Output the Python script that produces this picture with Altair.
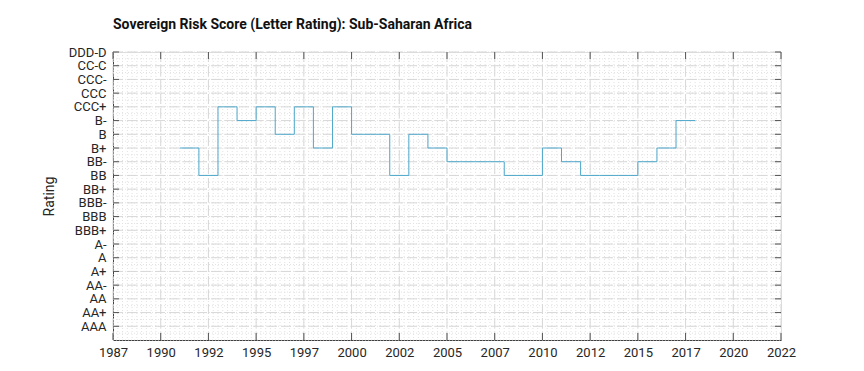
import altair as alt
import pandas as pd
import numpy as np

# ---- data ----
rating_levels = ["AAA", "AA+", "AA", "AA-", "A+", "A", "A-", "BBB+", "BBB", "BBB-",
                 "BB+", "BB", "BB-", "B+", "B", "B-", "CCC+", "CCC", "CCC-", "CC-C", "DDD-D"]
years = [1990.5, 1991.5, 1992.5, 1993.5, 1994.5, 1995.5, 1996.5, 1997.5, 1998.5, 1999.5,
         2000.5, 2001.5, 2002.5, 2003.5, 2004.5, 2005.5, 2006.5, 2007.5, 2008.5, 2009.5,
         2010.5, 2011.5, 2012.5, 2013.5, 2014.5, 2015.5, 2016.5, 2017.5]
ratings = ["B+", "BB", "CCC+", "B-", "CCC+", "B", "CCC+", "B+", "CCC+", "B",
           "B", "BB", "B", "B+", "BB-", "BB-", "BB-", "BB", "BB", "B+",
           "BB-", "BB", "BB", "BB", "BB-", "B+", "B-", "B-"]
x_ticks = [1987, 1989.5, 1992, 1994.5, 1997, 1999.5, 2002, 2004.5, 2007, 2009.5,
           2012, 2014.5, 2017, 2019.5, 2022]

W, H = 668, 288
FONT = "Roboto"

df = pd.DataFrame({"year": years, "rating": ratings})
df["score"] = df["rating"].map({r: i + 1 for i, r in enumerate(rating_levels)})

y_vals = list(range(1, len(rating_levels) + 1))
label_arr = "[''," + ",".join("'" + r + "'" for r in rating_levels) + "]"

xs = alt.Scale(domain=[1987, 2022], nice=False, zero=False)
ys = alt.Scale(domain=[0, 21], nice=False, zero=False)

common = dict(grid=False, ticks=False, labelFontSize=13, labelFont=FONT, labelColor="#262626",
              domainColor="#404040", labelFlush=False, labelOverlap=False, labelBound=False,
              titleFont=FONT, titleFontSize=14, titleFontWeight="normal", titleColor="#262626")
x_axis = alt.Axis(values=x_ticks, labelExpr="round(datum.value)", title=None,
                  labelPadding=6, **common)
y_axis = alt.Axis(values=y_vals, labelExpr=label_arr + "[datum.value]", title="Rating",
                  titleX=-57, titleY=H / 2, labelPadding=7, **common)

# minor grid (styling)
minor_x = pd.DataFrame({"mx": [v for v in np.arange(1987, 2022.001, 0.25)]})
minor_y = pd.DataFrame({"my": [v for v in np.arange(0, 21.001, 0.5)]})
tick_x = pd.DataFrame({"tx": x_ticks})
tick_y = pd.DataFrame({"ty": y_vals})

def XQ(f):
    return alt.X(f, scale=xs, axis=x_axis)

def YQ(f):
    return alt.Y(f, scale=ys, axis=y_axis)

grid_style = dict(color="#e2e2e2", strokeWidth=1, strokeDash=[1, 2])

minor_v = alt.Chart(minor_x).mark_rule(**grid_style).encode(
    x=XQ("mx:Q"), y=alt.value(0), y2=alt.value(H))
minor_h = alt.Chart(minor_y).mark_rule(**grid_style).encode(
    y=YQ("my:Q"), x=alt.value(0), x2=alt.value(W))

major_style = dict(color="#d8d8d8", strokeWidth=1, strokeDash=[10, 4])
major_v = alt.Chart(tick_x).mark_rule(**major_style).encode(
    x=XQ("tx:Q"), y=alt.value(0), y2=alt.value(H))
major_h = alt.Chart(tick_y).mark_rule(**major_style).encode(
    y=YQ("ty:Q"), x=alt.value(0), x2=alt.value(W))

tick_color = "#555555"
tb = alt.Chart(tick_x).mark_rule(color=tick_color).encode(
    x=XQ("tx:Q"), y=alt.value(H), y2=alt.value(H - 7))
tt = alt.Chart(tick_x).mark_rule(color=tick_color).encode(
    x=XQ("tx:Q"), y=alt.value(0), y2=alt.value(7))
tl = alt.Chart(tick_y).mark_rule(color=tick_color).encode(
    y=YQ("ty:Q"), x=alt.value(0), x2=alt.value(6))
tr = alt.Chart(tick_y).mark_rule(color=tick_color).encode(
    y=YQ("ty:Q"), x=alt.value(W), x2=alt.value(W - 6))

line = alt.Chart(df).mark_line(interpolate="step-after", color="#4fa8cc", strokeWidth=1).encode(
    x=XQ("year:Q"), y=YQ("score:Q"))

chart = alt.layer(minor_v, minor_h, major_v, major_h, tb, tt, tl, tr, line).properties(
    width=W, height=H,
    title=alt.TitleParams("Sovereign Risk Score (Letter Rating): Sub-Saharan Africa",
                          anchor="start", frame="group", font=FONT, fontSize=14,
                          fontWeight="bold", color="#111111", offset=14),
    autosize=alt.AutoSizeParams(type="none"),
    padding={"left": 105, "top": 44, "right": 75, "bottom": 23},
).configure_view(stroke="#404040", strokeWidth=1).configure(background="white")

chart.save("out.html", embed_options={"renderer": "svg", "actions": False})
